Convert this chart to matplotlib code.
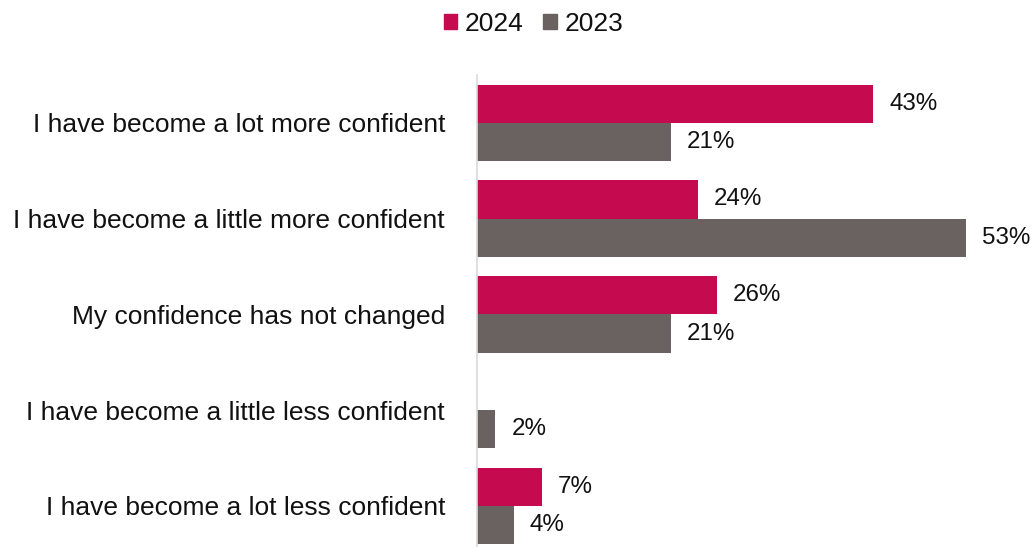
import numpy as np
import matplotlib
matplotlib.use("Agg")
import matplotlib.pyplot as plt
from matplotlib.patches import Patch

plt.rcParams['font.family'] = ['Liberation Sans', 'DejaVu Sans']

categories = [
    "I have become a lot more confident",
    "I have become a little more confident",
    "My confidence has not changed",
    "I have become a little less confident",
    "I have become a lot less confident",
]
values_2024 = [43, 24, 26, np.nan, 7]
values_2023 = [21, 53, 21, 2, 4]

col_2024 = "#C50A4F"
col_2023 = "#6A6260"

fig = plt.figure(figsize=(10.34, 5.47), dpi=100)
ax = fig.add_axes([0.4613, -0.0123, 0.535, 0.8752])

y = np.arange(len(categories))
h = 0.4
b24 = ax.barh(y - h / 2, values_2024, height=h, color=col_2024)
b23 = ax.barh(y + h / 2, values_2023, height=h, color=col_2023)

# value labels to the right of each bar
for bars, vals in ((b24, values_2024), (b23, values_2023)):
    for bar, v in zip(bars, vals):
        if np.isnan(v):
            continue
        ax.annotate(f"{v:.0f}%", xy=(v, bar.get_y() + bar.get_height() / 2),
                    xytext=(11.5, 0), textcoords="offset points",
                    ha="left", va="center", fontsize=17.4, color="#111111")

ax.set_xlim(0, 60)
ax.set_ylim(4.5, -0.5)
ax.set_yticks(y)
ax.set_yticklabels(categories, fontsize=19.0, color="#111111")
ax.tick_params(axis="y", length=0, pad=23)
ax.set_xticks([])
for s in ("top", "right", "bottom"):
    ax.spines[s].set_visible(False)
ax.spines["left"].set_color("#D9D9D9")
ax.spines["left"].set_linewidth(1.2)

handles = [Patch(color=col_2024, label="2024"), Patch(color=col_2023, label="2023")]
fig.legend(handles=handles, loc="center", bbox_to_anchor=(0.516, 0.956), ncol=2,
           frameon=False, fontsize=19.0, handlelength=0.5, handleheight=0.5,
           handletextpad=0.3, columnspacing=0.75, labelcolor="#111111")

fig.savefig("out.png", dpi=100)
